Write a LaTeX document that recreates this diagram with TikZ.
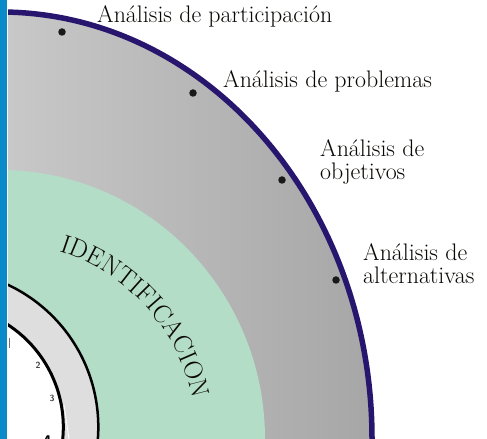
\documentclass[tikz,border=0pt]{standalone}
\usetikzlibrary{decorations.text}
\definecolor{navy}{RGB}{40,22,110}
\definecolor{ringgreen}{RGB}{180,221,200}
\definecolor{lgray}{RGB}{222,222,222}
\definecolor{barblue}{RGB}{10,138,200}
\definecolor{grayL}{RGB}{200,200,200}
\definecolor{grayR}{RGB}{166,166,166}
\definecolor{inktext}{RGB}{10,8,5}
\begin{document}
\begin{tikzpicture}[x=1bp,y=1bp,
  lbl/.style={anchor=base west, inner sep=0pt, font=\fontsize{24}{24}\selectfont, align=left, text=inktext},
  dotmark/.style={circle, fill=black!90, draw=none, minimum size=7.5bp, inner sep=0pt},
  num/.style={inner sep=0pt, font=\sffamily\bfseries\fontsize{9}{9}\selectfont, text=black!75}]
\useasboundingbox (0,0) rectangle (487,439);
\begin{scope}
  \clip (8,0) rectangle (487,439);
  % outer gray disc
  \begin{scope}
    \clip (0,0) ellipse [x radius=372bp, y radius=427bp];
    \shade[left color=grayL, right color=grayR] (8,0) rectangle (375,439);
  \end{scope}
  \draw[navy, line width=5.5bp] (0,0) ellipse [x radius=372bp, y radius=427bp];
  % green disc
  \fill[ringgreen] (0,0) ellipse [x radius=265bp, y radius=269bp];
  % inner rings
  \coordinate (c) at (-58.7,12);
  \fill[lgray] (c) circle [radius=157bp];
  \draw[black, line width=2.5bp] (c) circle [radius=157bp];
  \fill[white] (c) circle [radius=122bp];
  \draw[black, line width=3bp] (c) circle [radius=122bp];
  \draw[white, line width=0.8bp] (64,34) -- (69,0);
  \draw[black!55, line width=0.8bp] (9,91) -- (9,101);
  \node[num] (n2) at (38,74) {2};
  \node[num] (n3) at (52,41) {3};
  \node[inner sep=0pt, font=\sffamily\bfseries\fontsize{17}{17}\selectfont] (n4) at (47,-3) {4};
  % curved title
  \path[decorate, decoration={text along path, text align=center,
        text={|\fontsize{26}{26}\selectfont\color{inktext}|IDENTIFICACION}}]
        (0,0) ++(80:197) arc[start angle=80, end angle=4, radius=197];
\end{scope}
% left bar
\fill[barblue] (0,0) rectangle (6.5,439);
% dots
\node[dotmark] (d1) at (62,407) {};
\node[dotmark] (d2) at (193,346) {};
\node[dotmark] (d3) at (282,259) {};
\node[dotmark] (d4) at (336,159) {};
% labels
\node[lbl] (l1) at (97,416) {Análisis de participación};
\node[lbl] (l2) at (223,351) {Análisis de problemas};
\node[lbl] (l3) at (320,259) {Análisis de\\objetivos};
\node[lbl] (l4) at (363,155) {Análisis de\\alternativas};
\end{tikzpicture}
\end{document}
